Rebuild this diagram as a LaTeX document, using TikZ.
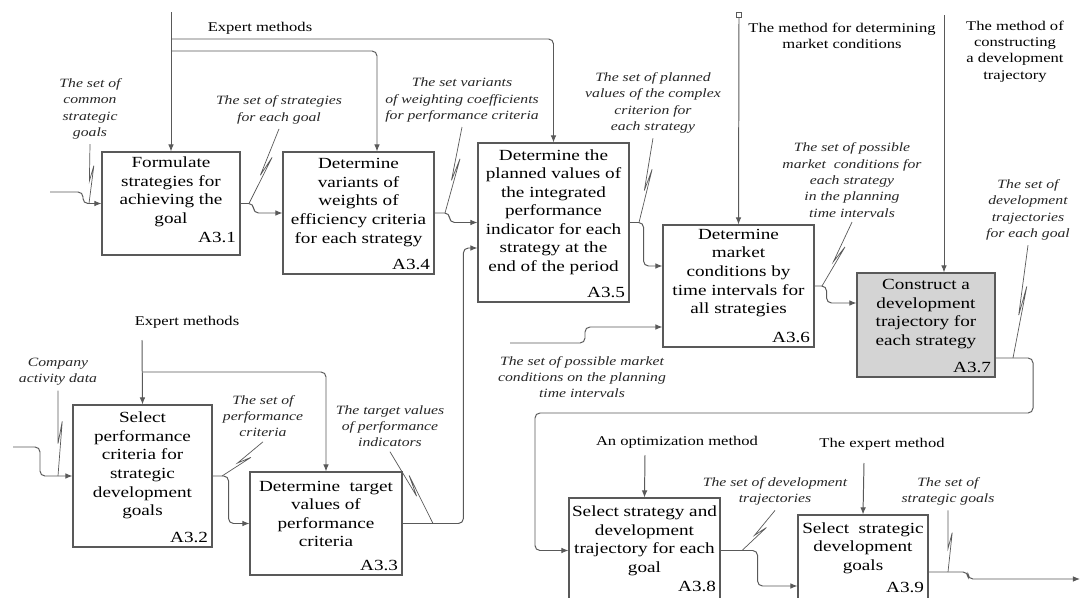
\documentclass[tikz,border=0pt]{standalone}
\usepackage{fontspec}
\setmainfont[FakeStretch=1.24]{Liberation Serif}
\usetikzlibrary{arrows.meta,calc,fit}

% leader line with the little zigzag in the middle
\newcommand{\squig}[2]{%
\draw[lead] (#1) -- ($(#1)!0.62!(#2)$) -- ($(#1)!0.36!(#2)!3pt!90:(#2)$) -- (#2);}

\begin{document}
\begin{tikzpicture}[x=0.025cm,y=-0.025cm,
actbox/.style={draw=black!65,line width=0.8pt,inner sep=0pt},
boxtxt/.style={align=center,font=\fontsize{11}{13.2}\selectfont},
num/.style={anchor=south east,inner sep=3pt,font=\fontsize{11}{13}\selectfont},
lbl/.style={align=center,text=black!85,font=\fontsize{9}{11.6}\selectfont\itshape},
ctl/.style={align=center,font=\fontsize{9.5}{11.5}\selectfont},
arr/.style={draw=black!65,line width=0.7pt,rounded corners=3.5pt,-{Latex[length=5pt,width=4pt]}},
lead/.style={draw=black!65,line width=0.5pt}]
\useasboundingbox (0,0) rectangle (1080,598);

% activity boxes
\node[actbox,fit={(102,152) (240,255)}] (a31) {};
\node[actbox,fit={(283,152) (434,274)}] (a34) {};
\node[actbox,fit={(478,143) (629,302)}] (a35) {};
\node[actbox,fit={(663,225) (814,347)}] (a36) {};
\node[actbox,fill=black!17,fit={(857,273) (995,377)}] (a37) {};
\node[actbox,fit={(73,405) (212,547)}] (a32) {};
\node[actbox,fit={(250,472) (402,575)}] (a33) {};
\node[actbox,fit={(569,498) (720,603)}] (a38) {};
\node[actbox,fit={(798,515) (928,602)}] (a39) {};

\node[boxtxt] (t31) at (171,192) {Formulate\\strategies for\\achieving the\\goal};
\node[boxtxt] (t34) at (358.5,202.5) {Determine\\variants of\\weights of\\efficiency criteria\\for each strategy};
\node[boxtxt] (t35) at (553.5,212) {Determine the\\planned values of\\the integrated\\performance\\indicator for each\\strategy at the\\end of the period};
\node[boxtxt] (t36) at (738.5,273) {Determine\\market\\conditions by\\time intervals for\\all strategies};
\node[boxtxt] (t37) at (926,314) {Construct a\\development\\trajectory for\\each strategy};
\node[boxtxt] (t32) at (142.5,465.5) {Select\\performance\\criteria for\\strategic\\development\\goals};
\node[boxtxt] (t33) at (326,514) {Determine\ \ target\\values of\\performance\\criteria};
\node[boxtxt] (t38) at (644.5,541) {Select strategy and\\development\\trajectory for each\\goal};
\node[boxtxt] (t39) at (863,548) {Select\ \ strategic\\development\\goals};

\node[num] (n31) at ([yshift=6pt]a31.south east) {A3.1};
\node[num] (n34) at (a34.south east) {A3.4};
\node[num] (n35) at (a35.south east) {A3.5};
\node[num] (n36) at (a36.south east) {A3.6};
\node[num] (n37) at (a37.south east) {A3.7};
\node[num] (n32) at (a32.south east) {A3.2};
\node[num] (n33) at (a33.south east) {A3.3};
\node[num] (n38) at ([yshift=5pt]a38.south east) {A3.8};
\node[num] (n39) at ([yshift=4pt]a39.south east) {A3.9};

% controls
\node[ctl] (em1) at (260,28) {Expert methods};
\node[ctl] (mdm) at (842,36) {The method for determining\\market conditions};
\node[ctl] (mcd) at (1015,51.5) {The method of\\constructing\\a development\\trajectory};
\node[ctl] (em2) at (187,322) {Expert methods};
\node[ctl] (opt) at (677,442) {An optimization method};
\node[ctl] (exm) at (882,444) {The expert method};

\coordinate (em1top) at (171,12);
\coordinate (br1) at (171,39);
\coordinate (br2) at (171,51);
\draw[arr] (em1top) -- (a31.north);
\draw[arr] (br1) -| (a35.north);
\draw[arr] (br2) -| (a34.north -| 377,0);

\node[draw=black!65,line width=0.6pt,fill=white,inner sep=0pt,minimum size=3.5pt] (sq) at (739,15) {};
\draw[arr] (sq.south) -- (a36.north);
\coordinate (mcdtop) at (944,15);
\draw[arr] (mcdtop) -- (a37.north -| 944,0);

\coordinate (em2top) at (142,340);
\coordinate (br3) at (142,372);
\draw[arr] (em2top) -- (a32.north);
\draw[arr] (br3) -| (a33.north);

\coordinate (opttop) at (645,455);
\draw[arr] (opttop) -- (a38.north);
\coordinate (exmtop) at (864,463);
\draw[arr] (exmtop) -- (a39.north);

% inputs and outputs
\coordinate (in31) at (50,192);
\draw[arr] (in31) -- ++(33,0) |- (a31.west);
\draw[arr] (a31.east) -- ++(13,0) |- (a34.west);
\draw[arr] (a34.east) -- ++(15,0) |- (a35.west);
\coordinate (in35b) at (a35.west |- 0,248);
\draw[arr] (a33.east) -| ([xshift=-10pt]in35b) -- (in35b);
\draw[arr] (a35.east) -- ++(14,0) |- (a36.west |- 0,266);
\coordinate (in36) at (510,343);
\draw[arr] (in36) -- (585,343) |- (a36.west |- 0,327);
\draw[arr] (a36.east) -- ++(12,0) |- (a37.west |- 0,303);
\draw[arr] (a37.east |- 0,358) -- (1033,358) |- (535,413) |- (a38.west);
\coordinate (in32) at (13,447);
\draw[arr] (in32) -- ++(27,0) |- (a32.west);
\draw[arr] (a32.east) -- ++(16,0) |- (a33.west);
\draw[arr] (a38.east) -- ++(37,0) |- (a39.west |- 0,586);
\coordinate (out39) at (1080,579);
\draw[arr] (a39.east |- 0,572) -- (968,572) |- (out39);

% arrow labels
\node[lbl] (lcg) at (90,109) {The set of\\common\\strategic\\goals};
\node[lbl] (lss) at (279,110) {The set of strategies\\for each goal};
\node[lbl] (lwc) at (462,100) {The set variants\\of weighting coefficients\\for performance criteria};
\node[lbl] (lpv) at (653,103) {The set of planned\\values of the complex\\criterion for\\each strategy};
\node[lbl] (lpm) at (852,180) {The set of possible\\market\ \ conditions for\\each strategy\\in the planning\\time intervals};
\node[lbl] (ldt) at (1028,210) {The set of\\development\\trajectories\\for each goal};
\node[lbl] (lpmc) at (582,377) {The set of possible market\\conditions on the planning\\time intervals};
\node[lbl] (lcad) at (58,372) {Company\\activity data};
\node[lbl] (lpc) at (263,416) {The set of\\performance\\criteria};
\node[lbl] (lrt) at (390,426) {The target values\\of performance\\indicators};
\node[lbl] (ldt2) at (775,491.5) {The set of development\\trajectories};
\node[lbl] (lsg) at (948,491.5) {The set of\\strategic goals};

\coordinate (c1) at (89,203.5);
\coordinate (c2) at (249,203.5);
\coordinate (c3) at (445,213);
\coordinate (c4) at (639,222.5);
\coordinate (c5) at (822,286);
\coordinate (c6) at (1013,358);
\coordinate (c7) at (58,476);
\coordinate (c8) at (222,476);
\coordinate (c9) at (433,523.5);
\coordinate (c10) at (742,550.5);
\coordinate (c11) at (948,572);

\squig{lcg.south}{c1}
\squig{lss.south}{c2}
\squig{lwc.south}{c3}
\squig{lpv.south}{c4}
\squig{lpm.south}{c5}
\squig{ldt.south}{c6}
\squig{lcad.south}{c7}
\squig{lpc.south}{c8}
\squig{lrt.south}{c9}
\squig{ldt2.south}{c10}
\squig{lsg.south}{c11}
\end{tikzpicture}
\end{document}
